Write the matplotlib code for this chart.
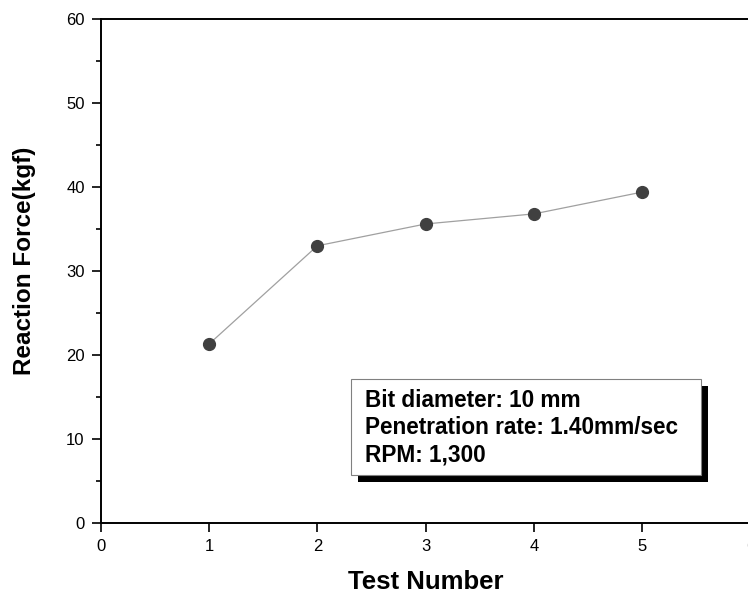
import matplotlib
matplotlib.use("Agg")
import matplotlib.pyplot as plt
from matplotlib.patches import Rectangle
from matplotlib.ticker import MultipleLocator

# data
test_no = [1, 2, 3, 4, 5]
force = [21.3, 33.0, 35.6, 36.8, 39.4]
info_lines = ["Bit diameter: 10 mm",
              "Penetration rate: 1.40mm/sec",
              "RPM: 1,300"]

plt.rcParams['font.family'] = ['Liberation Sans', 'DejaVu Sans']

fig = plt.figure(figsize=(7.48, 5.93), dpi=100)
# right edge runs just past the figure, like the original
ax = fig.add_axes([0.1346, 0.118, 0.869, 0.850])

ax.plot(test_no, force, color="#a0a0a0", lw=0.9, zorder=2)
ax.plot(test_no, force, ls="none", marker="o", ms=8.5,
        mfc="#404040", mec="#404040", zorder=3)

ax.set_xlim(0, 6)
ax.set_ylim(0, 60)
ax.xaxis.set_major_locator(MultipleLocator(1))
ax.yaxis.set_major_locator(MultipleLocator(10))
ax.yaxis.set_minor_locator(MultipleLocator(5))

for s in ax.spines.values():
    s.set_linewidth(1.4)
ax.tick_params(which="major", direction="out", length=6.5, width=1.2,
               labelsize=12, pad=5, top=False, right=False)
ax.tick_params(which="minor", direction="out", length=3.5, width=1.2)

ax.set_xlabel("Test Number", fontsize=18.5, fontweight="bold", va="top")
ax.xaxis.set_label_coords(0.5, -0.093)
ax.set_ylabel("Reaction Force(kgf)", fontsize=17.5, fontweight="bold")
ax.yaxis.set_label_coords(-0.1, 0.52)

# info box with black drop shadow
bx, by, bw, bh = 2.31, 5.71, 3.23, 11.43
ax.add_patch(Rectangle((bx + 0.065, by - 0.83), bw, bh, fc="black",
                       ec="black", lw=0, zorder=4))
ax.add_patch(Rectangle((bx, by), bw, bh, fc="white", ec="#808080",
                       lw=0.8, zorder=5))
for i, line in enumerate(info_lines):
    ax.text(2.44, 13.85 - i * 3.27, line, fontsize=16.3, fontweight="bold",
            va="baseline", ha="left", zorder=6)

fig.savefig("out.png", dpi=100)
